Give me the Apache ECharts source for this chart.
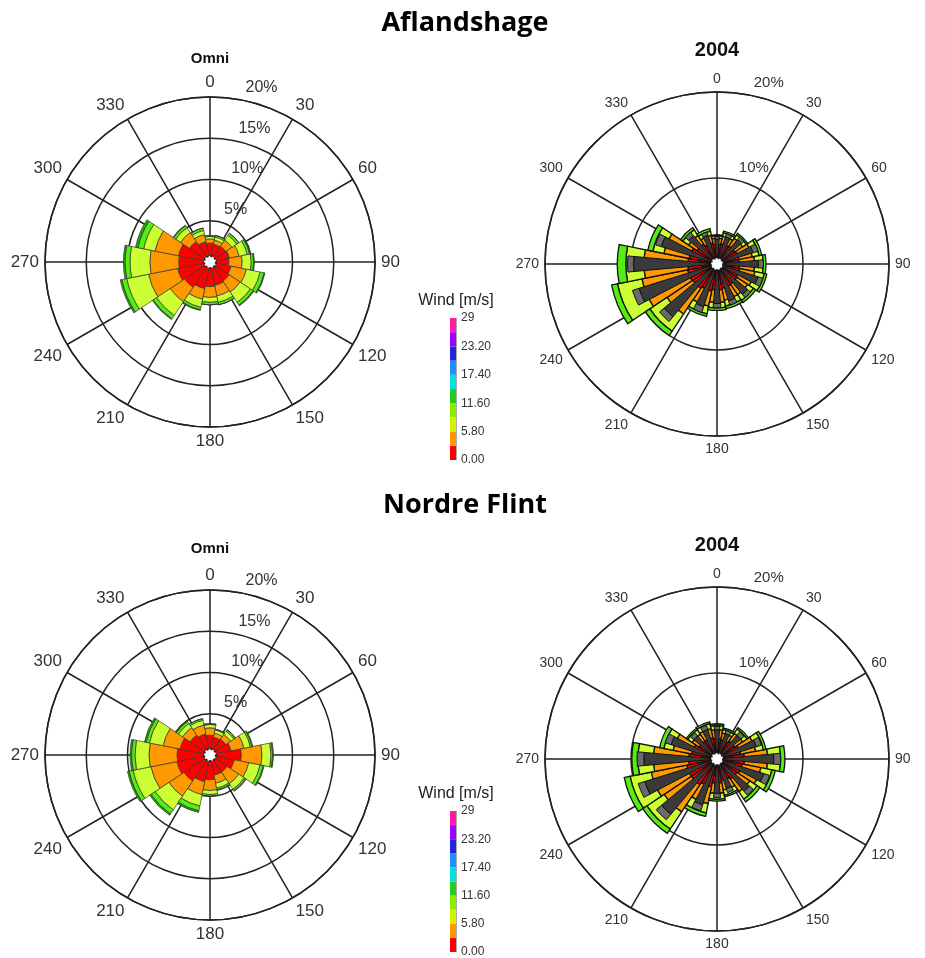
<!DOCTYPE html>
<html>
<head>
<meta charset="utf-8">
<title>Wind roses - Aflandshage / Nordre Flint</title>
<script src="https://cdn.jsdelivr.net/npm/echarts@6/dist/echarts.min.js"></script>
<style>
  html, body { margin: 0; padding: 0; background: #fff; }
  #chart { width: 925px; height: 958px; }
</style>
</head>
<body>
<div id="chart"></div>
<script>
  // 16 direction sectors (22.5 deg), clockwise from north
  var directions = ['N', 'NNE', 'NE', 'ENE', 'E', 'ESE', 'SE', 'SSE', 'S', 'SSW', 'SW', 'WSW', 'W', 'WNW', 'NW', 'NNW'];

  // speed bins used in the roses: 0-2.9, 2.9-5.8, 5.8-8.7, 8.7-11.6, 11.6-14.5 m/s
  var binColors = ['#ff0000', '#ff9900', '#ccff33', '#55ee11', '#22aa00'];

  // Aflandshage, omni - frequency (%) per bin
  var aflOmniBin1 = [2.3, 2.2, 2.3, 2.4, 2.3, 2.6, 2.8, 2.9, 3.0, 3.3, 3.7, 4.0, 3.8, 3.9, 3.0, 2.5];
  var aflOmniBin2 = [0.5, 0.5, 0.9, 1.2, 1.6, 1.9, 1.6, 1.3, 1.3, 1.3, 2.1, 3.6, 3.5, 2.9, 1.3, 0.9];
  var aflOmniBin3 = [0.3, 0.4, 0.7, 1.0, 1.1, 1.7, 1.5, 0.8, 0.6, 1.0, 2.0, 2.7, 2.4, 1.4, 0.7, 0.5];
  var aflOmniBin4 = [0.1, 0.2, 0.3, 0.3, 0.3, 0.5, 0.4, 0.3, 0.3, 0.3, 0.5, 0.6, 0.6, 0.7, 0.3, 0.3];
  var aflOmniBin5 = [0.0, 0.0, 0.0, 0.1, 0.1, 0.1, 0.1, 0.0, 0.0, 0.1, 0.1, 0.2, 0.2, 0.3, 0.1, 0.0];

  // Aflandshage, 2004
  var aflYearBin1 = [2.3, 2.4, 2.5, 2.6, 2.6, 2.7, 2.8, 2.9, 3.0, 3.2, 3.4, 3.5, 3.4, 3.3, 2.8, 2.5];
  var aflYearBin2 = [0.7, 0.9, 1.1, 1.6, 1.8, 1.8, 1.5, 1.4, 1.5, 1.8, 3.6, 5.4, 5.1, 3.0, 1.2, 0.9];
  var aflYearBin3 = [0.3, 0.4, 0.5, 0.8, 1.0, 1.1, 0.8, 0.7, 0.6, 0.9, 2.4, 2.9, 2.1, 1.3, 0.8, 0.5];
  var aflYearBin4 = [0.1, 0.2, 0.2, 0.3, 0.3, 0.3, 0.3, 0.3, 0.3, 0.3, 0.6, 0.7, 1.0, 0.6, 0.3, 0.3];
  var aflYearGrey = [2.9, 3.3, 3.7, 4.4, 4.8, 5.0, 4.6, 4.5, 4.6, 5.2, 8.0, 9.5, 9.7, 6.8, 4.3, 3.5];
  var aflYearCap = [0.3, 0.4, 0.4, 0.6, 0.6, 0.6, 0.5, 0.5, 0.5, 0.7, 0.7, 0.8, 0.7, 0.7, 0.5, 0.4];

  // Nordre Flint, omni
  var nfOmniBin1 = [2.4, 2.2, 2.3, 2.6, 3.8, 3.0, 2.5, 2.5, 3.0, 3.3, 3.8, 4.1, 4.0, 3.7, 2.9, 2.6];
  var nfOmniBin2 = [0.9, 0.5, 0.7, 1.6, 2.5, 1.8, 1.7, 1.0, 1.3, 1.6, 2.2, 3.2, 3.4, 2.1, 1.1, 1.1];
  var nfOmniBin3 = [0.4, 0.4, 0.5, 0.8, 1.1, 1.4, 0.8, 0.6, 0.5, 1.4, 2.0, 2.2, 1.7, 1.7, 0.6, 0.6];
  var nfOmniBin4 = [0.1, 0.1, 0.2, 0.2, 0.2, 0.4, 0.2, 0.2, 0.2, 0.6, 0.6, 0.5, 0.4, 0.4, 0.3, 0.2];
  var nfOmniBin5 = [0.0, 0.0, 0.0, 0.1, 0.1, 0.1, 0.1, 0.1, 0.0, 0.2, 0.2, 0.2, 0.2, 0.2, 0.1, 0.0];

  // Nordre Flint, 2004
  var nfYearBin1 = [2.4, 2.3, 2.5, 2.8, 3.2, 3.0, 2.8, 2.6, 2.8, 3.3, 3.6, 3.6, 3.3, 3.0, 2.5, 2.5];
  var nfYearBin2 = [1.0, 0.8, 1.1, 1.8, 2.7, 2.2, 1.8, 1.1, 1.2, 2.0, 3.8, 4.2, 4.1, 2.2, 1.0, 1.1];
  var nfYearBin3 = [0.5, 0.4, 0.6, 0.9, 1.5, 1.3, 1.0, 0.6, 0.7, 1.1, 2.4, 2.5, 1.8, 1.1, 0.6, 0.6];
  var nfYearBin4 = [0.2, 0.2, 0.2, 0.3, 0.5, 0.4, 0.4, 0.2, 0.2, 0.4, 0.6, 0.7, 0.7, 0.5, 0.2, 0.2];
  var nfYearGrey = [3.4, 3.1, 3.6, 4.8, 6.6, 5.7, 4.9, 3.6, 4.0, 5.6, 8.4, 8.8, 8.5, 5.6, 3.5, 3.6];
  var nfYearCap = [0.4, 0.4, 0.5, 0.6, 0.8, 0.7, 0.6, 0.5, 0.5, 0.7, 0.8, 0.8, 0.8, 0.7, 0.5, 0.5];

  // colour bar of wind speed
  var colorbarEdges = [0, 2.9, 5.8, 8.7, 11.6, 14.5, 17.4, 20.3, 23.2, 26.1, 29];
  var colorbarColors = ['#ff0000', '#ff9900', '#d8f000', '#88ee00', '#22cc22', '#00e0e0', '#1e90ff', '#2424dd', '#9a00ff', '#ff1aa8'];

  var roses = [
    {cx: 210, cy: 262, r: 165, step: 5, omni: true, bins: [aflOmniBin1, aflOmniBin2, aflOmniBin3, aflOmniBin4, aflOmniBin5]},
    {cx: 717, cy: 264, r: 172, step: 10, omni: false, bins: [aflYearBin1, aflYearBin2, aflYearBin3, aflYearBin4], grey: aflYearGrey, cap: aflYearCap},
    {cx: 210, cy: 755, r: 165, step: 5, omni: true, bins: [nfOmniBin1, nfOmniBin2, nfOmniBin3, nfOmniBin4, nfOmniBin5]},
    {cx: 717, cy: 759, r: 172, step: 10, omni: false, bins: [nfYearBin1, nfYearBin2, nfYearBin3, nfYearBin4], grey: nfYearGrey, cap: nfYearCap}
  ];

  var polar = [], angleAxis = [], radiusAxis = [], series = [], graphic = [];
  var halfSector = 180 / directions.length;

  roses.forEach(function (rose) {
    var center = [rose.cx, rose.cy];
    var fontSize = rose.omni ? 17 : 14;

    // grid polar: outer ring, circles, spokes every 30 deg
    var gi = polar.length;
    polar.push({center: center, radius: rose.r});
    angleAxis.push({
      polarIndex: gi, type: 'value', min: 0, max: 360, interval: 30,
      startAngle: 90, clockwise: true, z: 1,
      axisLine: {lineStyle: {color: '#222', width: 1.5}},
      axisTick: {show: false},
      splitLine: {lineStyle: {color: '#222', width: 1.5}},
      axisLabel: {
        margin: 6, color: '#333', fontSize: fontSize, fontFamily: 'Liberation Sans',
        formatter: function (v) { return v === 360 ? '' : String(v); }
      }
    });
    radiusAxis.push({
      polarIndex: gi, type: 'value', min: 0, max: 20, interval: rose.step, z: 1,
      axisLine: {show: false}, axisTick: {show: false}, axisLabel: {show: false},
      splitLine: {lineStyle: {color: '#222', width: 1.5}}
    });

    // bar polar: direction sectors centred on their headings
    var bi = polar.length;
    polar.push({center: center, radius: rose.r});
    angleAxis.push({
      polarIndex: bi, type: 'category', data: directions,
      startAngle: 90 + halfSector, clockwise: true, show: false
    });
    radiusAxis.push({polarIndex: bi, type: 'value', min: 0, max: 20, show: false});
    rose.bins.forEach(function (vals, k) {
      series.push({
        type: 'bar', coordinateSystem: 'polar', polarIndex: bi,
        stack: 'speed' + bi, data: vals, barCategoryGap: '0%', silent: true, z: 3,
        itemStyle: {
          color: binColors[k],
          borderColor: rose.omni ? '#333' : '#111',
          borderWidth: rose.omni ? 0.7 : 1.3
        }
      });
    });

    // grey overlay bars of the yearly roses
    if (rose.grey) {
      var oi = polar.length;
      polar.push({center: center, radius: rose.r});
      angleAxis.push({
        polarIndex: oi, type: 'category', data: directions,
        startAngle: 90 + halfSector, clockwise: true, show: false
      });
      radiusAxis.push({polarIndex: oi, type: 'value', min: 0, max: 20, show: false});
      [[rose.grey, '#3a3a3a'], [rose.cap, '#6a6a6a']].forEach(function (pair) {
        series.push({
          type: 'bar', coordinateSystem: 'polar', polarIndex: oi,
          stack: 'grey' + oi, data: pair[0], barWidth: '46%', silent: true, z: 4,
          itemStyle: {color: pair[1], borderColor: '#111', borderWidth: 1}
        });
      });
    }

    // percentage labels next to the north spoke
    var li = polar.length;
    polar.push({center: center, radius: rose.r});
    angleAxis.push({polarIndex: li, type: 'value', min: 0, max: 360, startAngle: 80, clockwise: true, show: false});
    radiusAxis.push({
      polarIndex: li, type: 'value', min: 0, max: 20, interval: rose.step, z: 10,
      axisLine: {show: false}, axisTick: {show: false}, splitLine: {show: false},
      axisLabel: {
        margin: -7, align: 'left', verticalAlign: 'bottom', padding: [0, 0, 5, 0],
        color: '#333', fontSize: rose.omni ? 16 : 15, fontFamily: 'Liberation Sans',
        formatter: function (v) { return v === 0 ? '' : v + '%'; }
      }
    });

    // calm hub in the middle
    graphic.push({
      type: 'circle', z: 100, silent: true,
      shape: {cx: rose.cx, cy: rose.cy, r: 6},
      style: {fill: '#fff', stroke: '#222', lineWidth: 2, lineDash: [2, 2]}
    });
  });

  // colour bars: one stacked column per site
  var grid = [], xAxis = [], yAxis = [];
  [318, 811].forEach(function (top, g) {
    grid.push({left: 450, top: top, width: 6, height: 142});
    xAxis.push({gridIndex: g, type: 'category', data: ['speed'], show: false});
    yAxis.push({
      gridIndex: g, type: 'value', position: 'right', min: 0, max: 29, interval: 5.8,
      name: 'Wind [m/s]', nameLocation: 'end', nameGap: 9,
      nameTextStyle: {fontSize: 16, color: '#222', fontFamily: 'Liberation Sans', align: 'center'},
      axisLine: {show: true, lineStyle: {color: '#555', width: 0.5}},
      axisTick: {show: false}, splitLine: {show: false},
      axisLabel: {
        margin: 5, fontSize: 12, color: '#333', fontFamily: 'Liberation Sans',
        formatter: function (v) { return v >= 29 ? '29' : v.toFixed(2); }
      }
    });
    colorbarColors.forEach(function (c, k) {
      series.push({
        type: 'bar', xAxisIndex: g, yAxisIndex: g, stack: 'colorbar' + g,
        data: [colorbarEdges[k + 1] - colorbarEdges[k]], barWidth: '100%', silent: true,
        itemStyle: {color: c}
      });
    });
  });

  var titleFont = {fontFamily: 'Open Sans', fontWeight: 'bold', color: '#000'};
  var subFont = {fontFamily: 'Liberation Sans', fontWeight: 'bold', color: '#111'};
  var title = [
    {text: 'Aflandshage', left: 465, top: 10, textAlign: 'center', padding: 0, textStyle: Object.assign({fontSize: 27}, titleFont)},
    {text: 'Nordre Flint', left: 465, top: 492, textAlign: 'center', padding: 0, textStyle: Object.assign({fontSize: 27}, titleFont)},
    {text: 'Omni', left: 210, top: 51, textAlign: 'center', padding: 0, textStyle: Object.assign({fontSize: 15}, subFont)},
    {text: '2004', left: 717, top: 40, textAlign: 'center', padding: 0, textStyle: Object.assign({fontSize: 20}, subFont)},
    {text: 'Omni', left: 210, top: 541, textAlign: 'center', padding: 0, textStyle: Object.assign({fontSize: 15}, subFont)},
    {text: '2004', left: 717, top: 535, textAlign: 'center', padding: 0, textStyle: Object.assign({fontSize: 20}, subFont)}
  ];

  var chart = echarts.init(document.getElementById('chart'));
  chart.setOption({
    animation: false,
    backgroundColor: '#fff',
    title: title,
    polar: polar,
    angleAxis: angleAxis,
    radiusAxis: radiusAxis,
    grid: grid,
    xAxis: xAxis,
    yAxis: yAxis,
    graphic: graphic,
    series: series
  });
</script>
</body>
</html>
